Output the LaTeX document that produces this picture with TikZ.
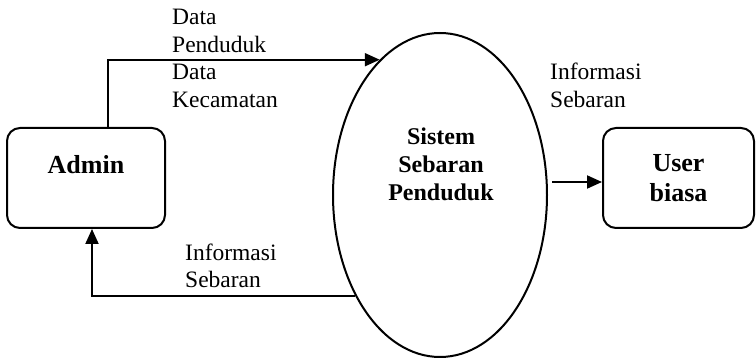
\documentclass[tikz,border=0pt]{standalone}
\usepackage{fontspec}
\setmainfont{Liberation Serif}
\usetikzlibrary{shapes.geometric,arrows.meta,calc}
\begin{document}
\begin{tikzpicture}[x=1pt,y=-1pt,
  box/.style={draw,line width=2pt,rounded corners=13pt,inner sep=0pt,font=\fontsize{26}{30}\selectfont\bfseries,align=center},
  lbl/.style={inner sep=0pt,font=\fontsize{23.5}{27.5}\selectfont,align=left},
  flow/.style={line width=2pt,-{Triangle[length=15pt,width=13pt]}}]
\useasboundingbox (0,0) rectangle (756,358);
\node[box,minimum width=158pt,minimum height=100pt] (admin) at (86,178) {\raisebox{28pt}{Admin}};
\node[box,minimum width=151pt,minimum height=100pt] (user) at (678.5,178) {User\\biasa};
\node[draw,ellipse,line width=2pt,minimum width=214pt,minimum height=324pt,inner sep=0pt,
  font=\fontsize{24}{28}\selectfont\bfseries,align=center] (sys) at (440,195) {};
\node[inner sep=0pt,font=\fontsize{24}{28}\selectfont\bfseries,align=center] (systxt) at (441,164) {Sistem\\Sebaran\\Penduduk};
\coordinate (a1) at ($(admin.north)+(22,0)$);
\draw[flow] (a1) |- (sys.114);
\coordinate (b1) at ($(admin.south)+(6,0)$);
\draw[flow] (sys.230) -| (b1);
\coordinate (s1) at (552,182);
\draw[flow] (s1) -- (s1 -| user.west);
\node[lbl,anchor=west] (l1) at (172,58.5) {Data\\Penduduk\\Data\\Kecamatan};
\node[lbl,anchor=west] (l2) at (185,266) {Informasi\\Sebaran};
\node[lbl,anchor=west] (l3) at (550,85.5) {Informasi\\Sebaran};
\end{tikzpicture}
\end{document}
